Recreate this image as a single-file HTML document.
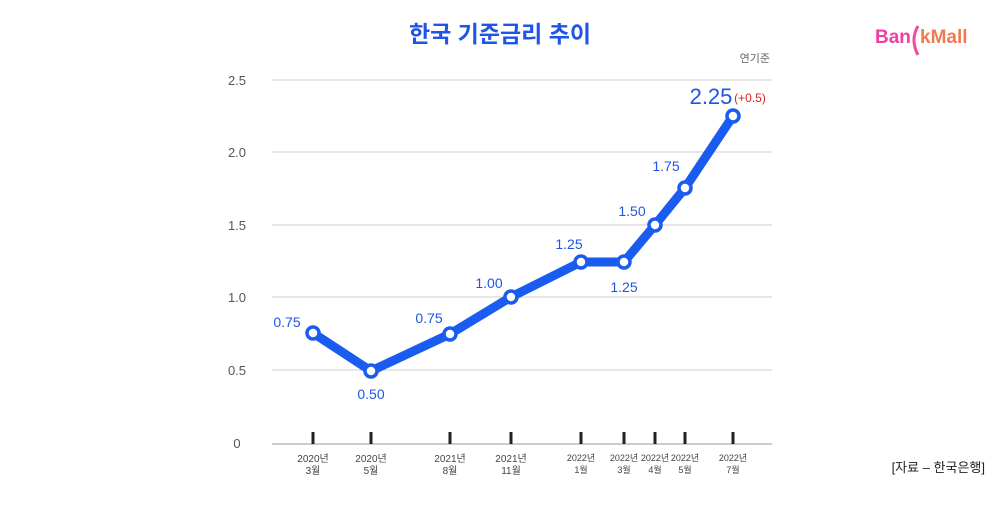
<!DOCTYPE html>
<html><head><meta charset="utf-8"><style>
body{margin:0;background:#fff;font-family:"Liberation Sans","Noto Sans CJK KR",sans-serif}
</style></head><body>
<svg width="1000" height="500" xmlns="http://www.w3.org/2000/svg" font-family="Liberation Sans, Noto Sans CJK KR, sans-serif">
<text x="500" y="42" text-anchor="middle" font-size="23" font-weight="bold" fill="#1f55e6">한국 기준금리 추이</text>
<text x="770" y="62" text-anchor="end" font-size="11" fill="#666">연기준</text>
<text x="875" y="43" font-size="19" font-weight="bold" fill="#ee3fa6">Ban</text>
<path d="M918 26 Q910 40 918 55" stroke="#f04e9a" stroke-width="3" fill="none"/>
<text x="920" y="43" font-size="19" font-weight="bold" fill="#f07a50">kMall</text>
<g stroke="#ccc" stroke-width="1">
<line x1="272" y1="80" x2="772" y2="80"/><line x1="272" y1="152" x2="772" y2="152"/>
<line x1="272" y1="225" x2="772" y2="225"/><line x1="272" y1="297" x2="772" y2="297"/>
<line x1="272" y1="370" x2="772" y2="370"/></g>
<line x1="272" y1="444" x2="772" y2="444" stroke="#ccc" stroke-width="2"/>
<g font-size="13" fill="#555" text-anchor="middle">
<text x="237" y="85">2.5</text><text x="237" y="157">2.0</text><text x="237" y="230">1.5</text>
<text x="237" y="302">1.0</text><text x="237" y="375">0.5</text><text x="237" y="448">0</text></g>
<g stroke="#222" stroke-width="3">
<line x1="313" y1="432" x2="313" y2="444"/><line x1="371" y1="432" x2="371" y2="444"/>
<line x1="450" y1="432" x2="450" y2="444"/><line x1="511" y1="432" x2="511" y2="444"/>
<line x1="581" y1="432" x2="581" y2="444"/><line x1="624" y1="432" x2="624" y2="444"/>
<line x1="655" y1="432" x2="655" y2="444"/><line x1="685" y1="432" x2="685" y2="444"/>
<line x1="733" y1="432" x2="733" y2="444"/></g>
<g font-size="10" fill="#444" text-anchor="middle">
<text x="313" y="462">2020년</text><text x="313" y="474">3월</text>
<text x="371" y="462">2020년</text><text x="371" y="474">5월</text>
<text x="450" y="462">2021년</text><text x="450" y="474">8월</text>
<text x="511" y="462">2021년</text><text x="511" y="474">11월</text>
<text font-size="9" x="581" y="461">2022년</text><text font-size="9" x="581" y="473">1월</text>
<text font-size="9" x="624" y="461">2022년</text><text font-size="9" x="624" y="473">3월</text>
<text font-size="9" x="655" y="461">2022년</text><text font-size="9" x="655" y="473">4월</text>
<text font-size="9" x="685" y="461">2022년</text><text font-size="9" x="685" y="473">5월</text>
<text font-size="9" x="733" y="461">2022년</text><text font-size="9" x="733" y="473">7월</text></g>
<text x="985" y="472" text-anchor="end" font-size="13" fill="#222">[자료 – 한국은행]</text>
<polyline points="313,333 371,371 450,334 511,297 581,262 624,262 655,225 685,188 733,116" fill="none" stroke="#1a5cf0" stroke-width="9" stroke-linejoin="round" stroke-linecap="round"/>
<g fill="#fff" stroke="#1a5cf0" stroke-width="3.5">
<circle cx="313" cy="333" r="6"/><circle cx="371" cy="371" r="6"/><circle cx="450" cy="334" r="6"/>
<circle cx="511" cy="297" r="6"/><circle cx="581" cy="262" r="6"/><circle cx="624" cy="262" r="6"/>
<circle cx="655" cy="225" r="6"/><circle cx="685" cy="188" r="6"/><circle cx="733" cy="116" r="6"/></g>
<g font-size="14" fill="#1f55e6" text-anchor="middle">
<text x="287" y="327">0.75</text><text x="371" y="399">0.50</text><text x="429" y="323">0.75</text>
<text x="489" y="288">1.00</text><text x="569" y="249">1.25</text><text x="624" y="292">1.25</text>
<text x="632" y="216">1.50</text><text x="666" y="171">1.75</text></g>
<text x="711" y="104" text-anchor="middle" font-size="22" fill="#1f55e6">2.25</text>
<text x="750" y="102" text-anchor="middle" font-size="12" fill="#e02020">(+0.5)</text>
</svg>
</body></html>
